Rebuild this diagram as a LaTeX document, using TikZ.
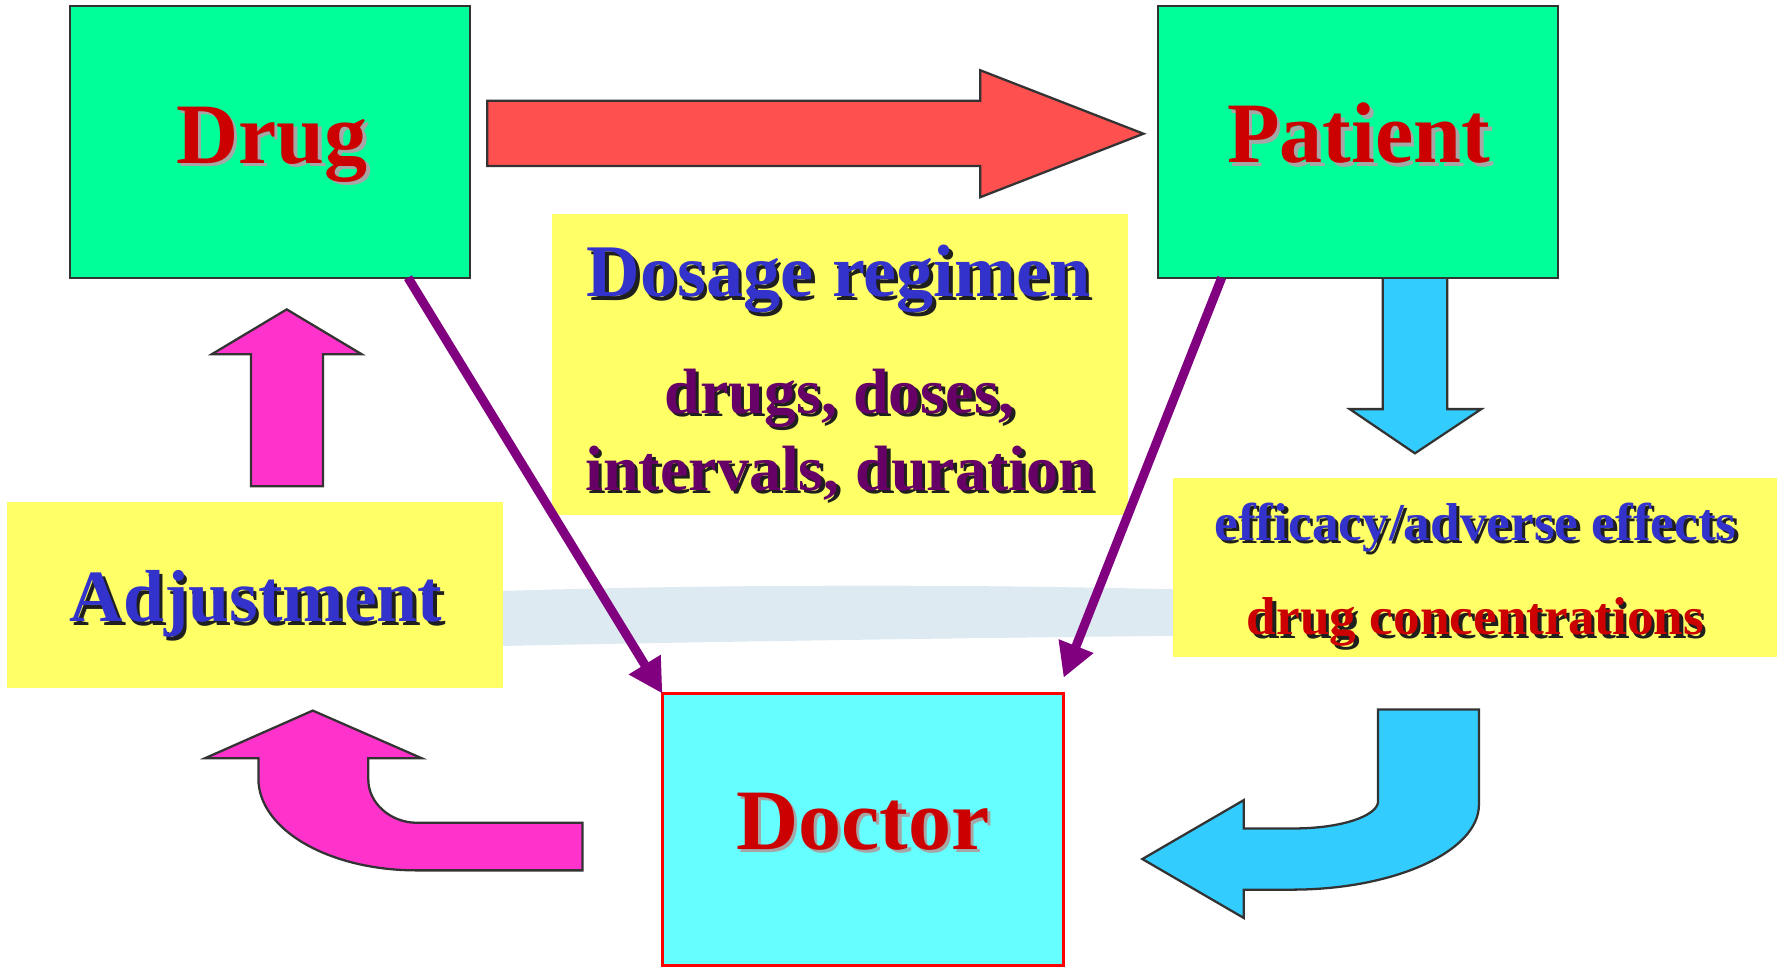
\documentclass[tikz,border=0pt]{standalone}
\usepackage{fontspec}
\setmainfont{Liberation Serif}
\usetikzlibrary{arrows.meta}
\definecolor{boxgreen}{RGB}{0,255,153}
\definecolor{boxcyan}{RGB}{102,255,255}
\definecolor{boxyellow}{RGB}{255,255,102}
\definecolor{arrred}{RGB}{255,80,80}
\definecolor{arrblue}{RGB}{51,204,255}
\definecolor{arrmag}{RGB}{255,51,204}
\definecolor{linepurple}{RGB}{128,0,128}
\definecolor{txtblue}{RGB}{51,51,204}
\definecolor{txtred}{RGB}{204,0,0}
\definecolor{txtpurple}{RGB}{102,0,102}
\definecolor{bandcol}{RGB}{221,234,242}
\definecolor{edgecol}{RGB}{51,51,51}
\newcommand\shadowtext[7]{%
  \node[txt,#4] (#1-sh) at ({#2+3},{#3+3}) {\fontsize{#6}{#6}\selectfont #7};
  \node[txt,text=#5] (#1) at (#2,#3) {\fontsize{#6}{#6}\selectfont #7};}
\begin{document}
\begin{tikzpicture}[x=1pt,y=-1pt,
  box/.style={rectangle, inner sep=0pt, outer sep=0pt, anchor=north west},
  greenbox/.style={box, fill=boxgreen, draw=edgecol, line width=2pt},
  cyanbox/.style={box, fill=boxcyan, draw=red, line width=2.5pt},
  yellowbox/.style={box, fill=boxyellow},
  txt/.style={anchor=base, inner sep=0pt, outer sep=0pt, font=\bfseries},
  softshadow/.style={text=black!35},
  hardshadow/.style={text=black!88},
  blockarrow/.style={draw=edgecol, line width=2pt, line join=miter},
  purplearrow/.style={draw=linepurple, line width=8pt, -{Triangle[length=30pt,width=31pt]}}
]
\useasboundingbox (0,0) rectangle (1568,854);

% feedback band
\fill[bandcol] (440,521.5) .. controls (640,515.5) and (850,515.5) .. (1036,520)
  -- (1036,561) .. controls (850,563) and (640,566) .. (440,570) -- cycle;

% block arrows
\draw[blockarrow, fill=arrblue] (1220,243) -- (1277,243) -- (1277,361) -- (1307,361)
  -- (1248.5,400) -- (1191,361) -- (1220,361) -- cycle;
\draw[blockarrow, fill=arrred] (430,89) -- (865,89) -- (865,62) -- (1009,118)
  -- (865,174) -- (865,146.5) -- (430,146.5) -- cycle;
\draw[blockarrow, fill=arrmag] (221.5,429) -- (221.5,312.5) -- (187,312.5) -- (253,273)
  -- (319,312.5) -- (285,312.5) -- (285,429) -- cycle;
\draw[blockarrow, fill=arrmag] (514,726) -- (514,768) -- (368,768)
  .. controls (289.6,768) and (228,731.7) .. (228,687)
  -- (228,669) -- (181,669) -- (276,627) -- (372,669) -- (325,669) -- (325,688)
  .. controls (325,708.4) and (344.3,726) .. (368,726) -- cycle;
\draw[blockarrow, fill=arrblue] (1216,626) -- (1305,626) -- (1305,710)
  .. controls (1305,751.4) and (1230,785) .. (1140,785)
  -- (1097.5,785) -- (1097.5,810) -- (1008,758) -- (1097.5,706) -- (1097.5,731)
  -- (1142,731) .. controls (1183,731) and (1216,720) .. (1216,707) -- cycle;

% boxes
\node[greenbox, minimum width=353pt, minimum height=240pt] (drug) at (62,5) {};
\node[greenbox, minimum width=353pt, minimum height=240pt] (patient) at (1022,5) {};
\node[cyanbox, minimum width=354pt, minimum height=240pt] (doctor) at (584.5,612) {};
\node[yellowbox, minimum width=508pt, minimum height=265pt] (dosage) at (487,189) {};
\node[yellowbox, minimum width=438pt, minimum height=164pt] (adjust) at (6,443) {};
\node[yellowbox, minimum width=533pt, minimum height=158pt] (effect) at (1035,422) {};

% connectors
\draw[purplearrow] ([xshift=298pt]drug.south west) -- (doctor.north west);
\draw[purplearrow] ([xshift=56pt]patient.south west) -- ([yshift=14pt]doctor.north east);

% texts
\shadowtext{drugtxt}{240}{144}{softshadow}{txtred}{76}{Drug}
\shadowtext{patienttxt}{1199}{143.5}{softshadow}{txtred}{76}{Patient}
\shadowtext{doctortxt}{761.5}{749.5}{softshadow}{txtred}{76}{Doctor}
\shadowtext{dosagetxt}{740}{262}{hardshadow}{txtblue}{65.5}{Dosage regimen}
\shadowtext{dosestxt}{741}{364.5}{hardshadow}{txtpurple}{56.5}{drugs, doses,}
\shadowtext{intervtxt}{741}{432.5}{hardshadow}{txtpurple}{56.5}{intervals, duration}
\shadowtext{adjusttxt}{226}{548.5}{hardshadow}{txtblue}{65}{Adjustment}
\shadowtext{efftxt}{1302}{476.5}{hardshadow}{txtblue}{47}{efficacy/adverse effects}
\shadowtext{conctxt}{1302}{560}{hardshadow}{txtred}{47}{drug concentrations}
\end{tikzpicture}
\end{document}
